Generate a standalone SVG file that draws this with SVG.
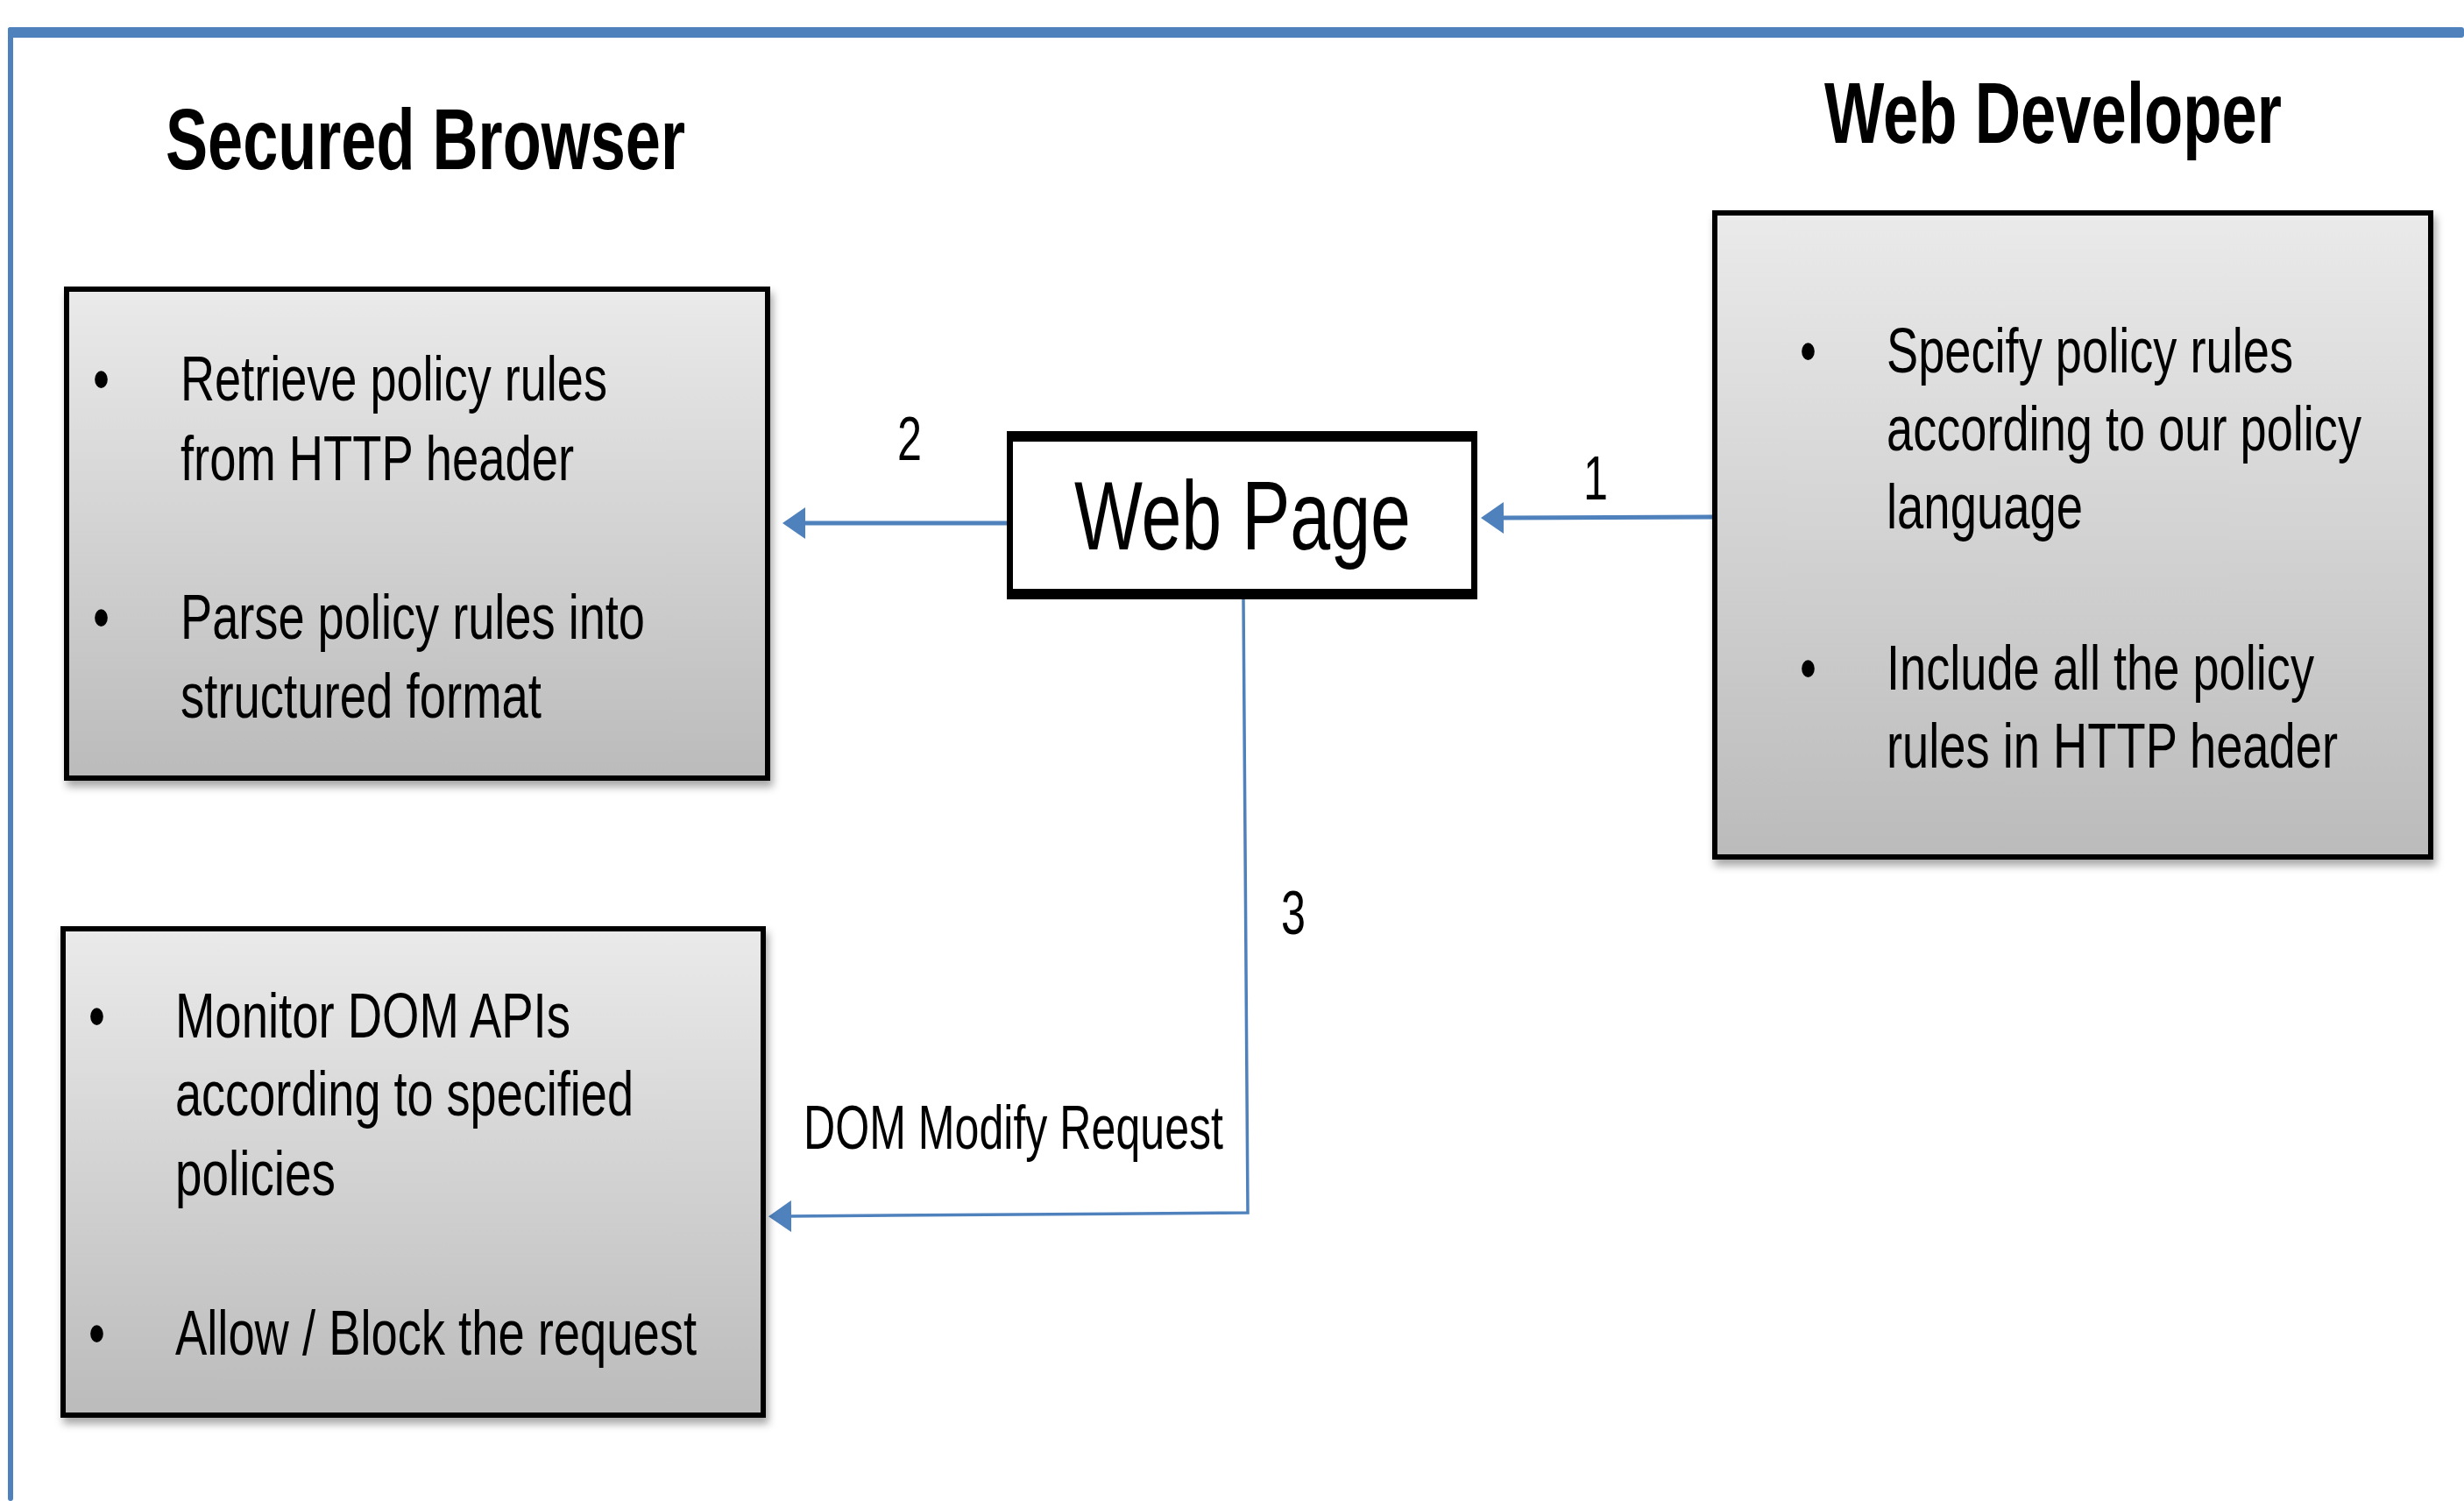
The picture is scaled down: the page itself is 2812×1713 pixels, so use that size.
<svg xmlns="http://www.w3.org/2000/svg" width="2812" height="1713" viewBox="0 0 2812 1713">
  <style>
    text { font-family: "Liberation Sans", Arial, sans-serif; fill: #000; }
    .title { font-size: 99px; font-weight: bold; }
    .body { font-size: 72px; }
    .num { font-size: 70px; }
    .panel { fill: url(#panelFill); stroke: #000; stroke-width: 6; filter: url(#shadow); }
    .link { fill: none; stroke: #4f81bd; stroke-width: 5; }
    .link.thin { stroke-width: 3.5; }
    .frame { fill: #4f81bd; }
  </style>
  <defs>
    <linearGradient id="panelFill" x1="0" y1="0" x2="0" y2="1">
      <stop offset="0" stop-color="#eaeaea"/>
      <stop offset="1" stop-color="#bbbbbb"/>
    </linearGradient>
    <filter id="shadow" x="-5%" y="-5%" width="115%" height="115%">
      <feDropShadow dx="3" dy="7" stdDeviation="5" flood-color="#000" flood-opacity="0.35"/>
    </filter>
    <marker id="arrow" viewBox="0 0 26 36" refX="2" refY="18" markerWidth="26" markerHeight="36" markerUnits="userSpaceOnUse" orient="auto">
      <path d="M0,0 L26,18 L0,36 Z" fill="#4f81bd"/>
    </marker>
  </defs>

  <rect width="2812" height="1713" fill="#fff"/>

  <!-- outer blue frame, open at right and bottom -->
  <g id="frame">
    <rect class="frame" x="9" y="31" width="2803" height="12" rx="3"/>
    <rect class="frame" x="9" y="31" width="6" height="1682" rx="3"/>
  </g>

  <!-- column headings -->
  <g id="heading-browser">
    <text class="title" x="189" y="193" textLength="593" lengthAdjust="spacingAndGlyphs">Secured Browser</text>
  </g>
  <g id="heading-developer">
    <text class="title" x="2082" y="163" textLength="522" lengthAdjust="spacingAndGlyphs">Web Developer</text>
  </g>

  <!-- connectors -->
  <g id="connectors">
    <path class="link" d="M1954,590 L1714,591" marker-end="url(#arrow)"/>
    <path class="link" d="M1149,597 L917,597" marker-end="url(#arrow)"/>
    <path class="link thin" d="M1419,684 L1424,1384 L901,1388" marker-end="url(#arrow)"/>
    <text class="num" x="1807" y="570" textLength="28" lengthAdjust="spacingAndGlyphs">1</text>
    <text class="num" x="1024" y="525" textLength="28" lengthAdjust="spacingAndGlyphs">2</text>
    <text class="num" x="1462" y="1066" textLength="28" lengthAdjust="spacingAndGlyphs">3</text>
    <text class="num" x="917" y="1311" textLength="479" lengthAdjust="spacingAndGlyphs">DOM Modify Request</text>
  </g>

  <!-- browser: policy loading -->
  <g id="browser-parse">
    <rect class="panel" x="76" y="330" width="800" height="558"/>
    <text class="body" x="106" y="457" textLength="19" lengthAdjust="spacingAndGlyphs">•</text>
    <text class="body" x="206" y="457" textLength="487" lengthAdjust="spacingAndGlyphs">Retrieve policy rules</text>
    <text class="body" x="206" y="548" textLength="449" lengthAdjust="spacingAndGlyphs">from HTTP header</text>
    <text class="body" x="106" y="729" textLength="19" lengthAdjust="spacingAndGlyphs">•</text>
    <text class="body" x="206" y="729" textLength="530" lengthAdjust="spacingAndGlyphs">Parse policy rules into</text>
    <text class="body" x="206" y="819" textLength="412" lengthAdjust="spacingAndGlyphs">structured format</text>
  </g>

  <!-- web developer -->
  <g id="developer-box">
    <rect class="panel" x="1957" y="243" width="817" height="735"/>
    <text class="body" x="2054" y="425" textLength="19" lengthAdjust="spacingAndGlyphs">•</text>
    <text class="body" x="2153" y="425" textLength="464" lengthAdjust="spacingAndGlyphs">Specify policy rules</text>
    <text class="body" x="2153" y="514" textLength="542" lengthAdjust="spacingAndGlyphs">according to our policy</text>
    <text class="body" x="2153" y="603" textLength="224" lengthAdjust="spacingAndGlyphs">language</text>
    <text class="body" x="2054" y="787" textLength="19" lengthAdjust="spacingAndGlyphs">•</text>
    <text class="body" x="2153" y="787" textLength="488" lengthAdjust="spacingAndGlyphs">Include all the policy</text>
    <text class="body" x="2153" y="876" textLength="515" lengthAdjust="spacingAndGlyphs">rules in HTTP header</text>
  </g>

  <!-- web page -->
  <g id="web-page">
    <rect x="1149" y="492" width="537" height="192" fill="#000"/>
    <rect x="1156" y="504" width="523" height="168" fill="#fff"/>
    <text x="1226" y="627" font-size="112" textLength="384" lengthAdjust="spacingAndGlyphs">Web Page</text>
  </g>

  <!-- browser: DOM monitoring -->
  <g id="browser-monitor">
    <rect class="panel" x="72" y="1060" width="799" height="555"/>
    <text class="body" x="101" y="1184" textLength="19" lengthAdjust="spacingAndGlyphs">•</text>
    <text class="body" x="200" y="1184" textLength="451" lengthAdjust="spacingAndGlyphs">Monitor DOM APIs</text>
    <text class="body" x="200" y="1273" textLength="523" lengthAdjust="spacingAndGlyphs">according to specified</text>
    <text class="body" x="200" y="1364" textLength="183" lengthAdjust="spacingAndGlyphs">policies</text>
    <text class="body" x="101" y="1546" textLength="19" lengthAdjust="spacingAndGlyphs">•</text>
    <text class="body" x="200" y="1546" textLength="595" lengthAdjust="spacingAndGlyphs">Allow / Block the request</text>
  </g>
</svg>
